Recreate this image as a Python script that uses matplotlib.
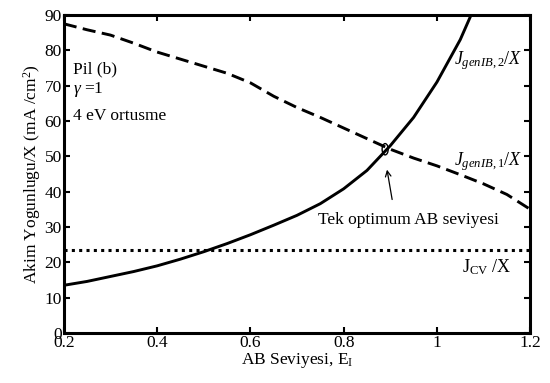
import matplotlib
matplotlib.use('Agg')
import matplotlib.pyplot as plt
from matplotlib.patches import Ellipse
import numpy as np

plt.rcParams['font.family'] = 'Liberation Serif'
plt.rcParams['mathtext.fontset'] = 'custom'
plt.rcParams['mathtext.rm'] = 'Liberation Serif'
plt.rcParams['mathtext.it'] = 'Liberation Serif:italic'

# AB seviyesi (E_I) ekseni
e_gen1 = [0.2, 0.25, 0.3, 0.35, 0.4, 0.45, 0.5, 0.55, 0.6, 0.65, 0.7, 0.75,
          0.8, 0.85, 0.9, 0.95, 1.0, 1.05, 1.1, 1.15, 1.2]
j_gen1 = [87.5, 85.8, 84.3, 82.0, 79.5, 77.5, 75.5, 73.5, 70.8, 67.0, 63.8, 61.0,
          58.0, 55.0, 52.0, 49.5, 47.3, 44.8, 42.2, 39.2, 35.0]

e_gen2 = [0.2, 0.25, 0.3, 0.35, 0.4, 0.45, 0.5, 0.55, 0.6, 0.65, 0.7, 0.75,
          0.8, 0.85, 0.9, 0.95, 1.0, 1.05, 1.08]
j_gen2 = [13.5, 14.6, 16.0, 17.4, 19.0, 20.9, 23.0, 25.3, 27.8, 30.5, 33.3, 36.6,
          40.8, 46.0, 53.0, 61.0, 71.0, 83.0, 92.0]

e_cv = [0.2, 1.2]
j_cv = [23.5, 23.5]

optimum = (0.889, 52.0)

fig, ax = plt.subplots(figsize=(5.5, 3.83), dpi=100)
fig.subplots_adjust(left=0.116, right=0.964, bottom=0.1305, top=0.961)

ax.plot(e_gen1, j_gen1, color='black', linestyle=(0, (4.5, 2.2)), linewidth=2.1)
ax.plot(e_gen2, j_gen2, color='black', linestyle='-', linewidth=2.1)
ax.plot(e_cv, j_cv, color='black', linestyle=(0, (1, 1.4)), linewidth=2.2)

ax.add_patch(Ellipse(optimum, 0.013, 3.2, fill=False, edgecolor='black', linewidth=1.0))
ax.annotate('', xy=(0.892, 47.0), xytext=(0.905, 37.0),
            arrowprops=dict(arrowstyle='->', color='black', linewidth=0.9))
ax.text(0.94, 32, 'Tek optimum AB seviyesi', ha='center', va='center', fontsize=12.5)

ax.text(1.037, 77, r'$J_{genIB,2}/X$', ha='left', va='center', fontsize=13)
ax.text(1.037, 48.5, r'$J_{genIB,1}/X$', ha='left', va='center', fontsize=13)
ax.text(1.054, 18.5, r'J$_{\rm CV}$ /X', ha='left', va='center', fontsize=13)

ax.text(0.22, 74.5, 'Pil (b)', ha='left', va='center', fontsize=12.5)
ax.text(0.22, 69, r'$\gamma$ =1', ha='left', va='center', fontsize=12.5)
ax.text(0.22, 61.5, '4 eV ortusme', ha='left', va='center', fontsize=12.5)

ax.set_xlim(0.2, 1.2)
ax.set_ylim(0, 90)
ax.set_xticks([0.2, 0.4, 0.6, 0.8, 1.0, 1.2])
ax.set_xticklabels(['0.2', '0.4', '0.6', '0.8', '1', '1.2'])
ax.set_yticks(np.arange(0, 91, 10))
ax.tick_params(direction='in', top=True, right=True, length=4, width=1.5,
               labelsize=12.5, pad=1.5)

for sp in ax.spines.values():
    sp.set_linewidth(2.2)

ax.set_xlabel(r'AB Seviyesi, E$_{\rm I}$', fontsize=12.5, labelpad=0)
ax.set_ylabel(r'Akim Yogunlugu/X (mA /cm$^2$)', fontsize=12.5, labelpad=1)

plt.savefig('out.png', dpi=100)
